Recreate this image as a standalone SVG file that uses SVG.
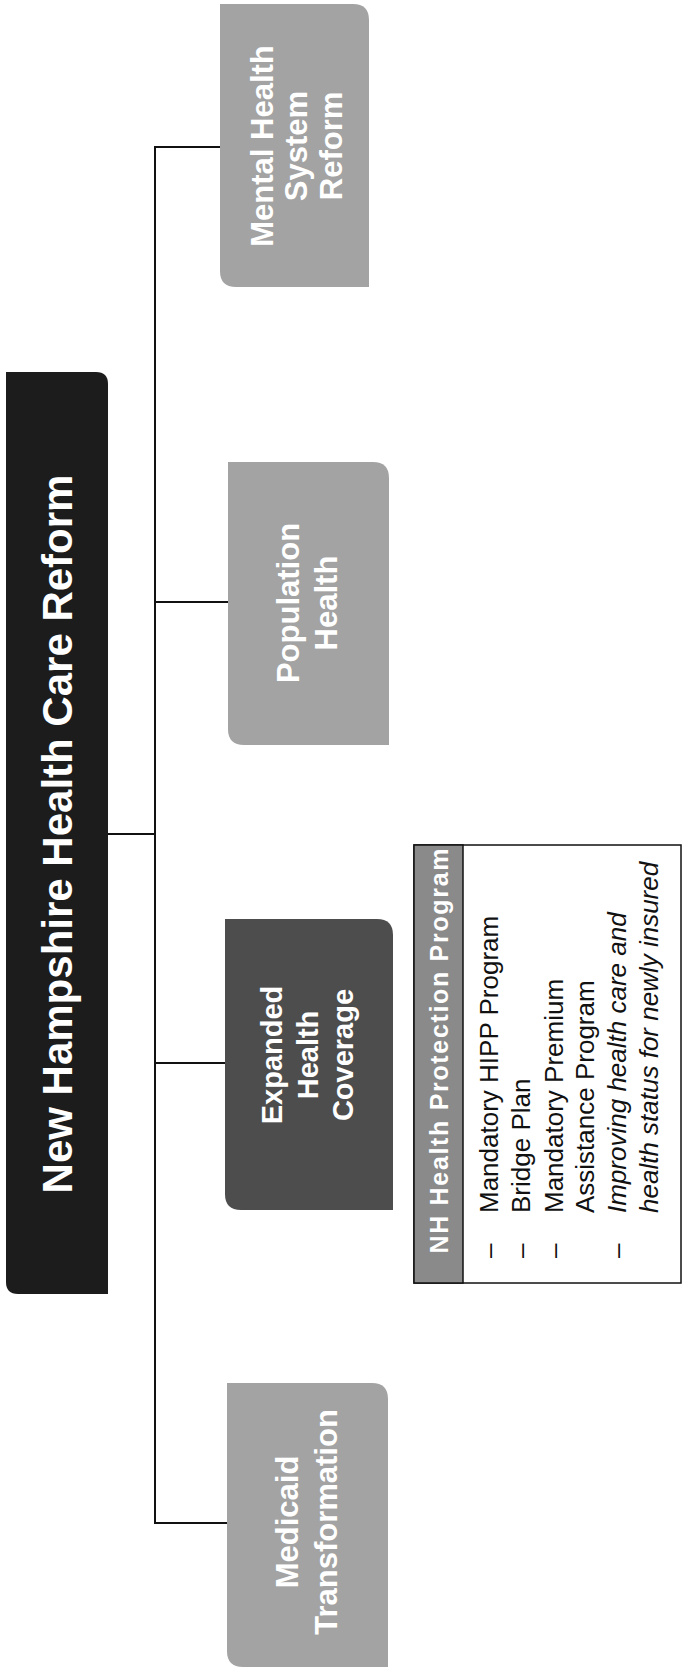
<svg xmlns="http://www.w3.org/2000/svg" width="686" height="1669" viewBox="0 0 686 1669">
<style>
.lbl{font-family:"Liberation Sans",Arial,sans-serif;font-weight:bold;fill:#ffffff;text-anchor:middle}
.item{font-family:"Liberation Sans",Arial,sans-serif;font-size:26px;fill:#111111}
.it{font-style:italic}
.conn{stroke:#111111;stroke-width:2;fill:none}
</style>
<rect width="686" height="1669" fill="#ffffff"/>
<g id="connectors">
<line class="conn" x1="155" y1="146" x2="155" y2="1524"/>
<line class="conn" x1="108" y1="834" x2="155" y2="834"/>
<line class="conn" x1="155" y1="147" x2="221" y2="147"/>
<line class="conn" x1="155" y1="602" x2="229" y2="602"/>
<line class="conn" x1="155" y1="1063" x2="226" y2="1063"/>
<line class="conn" x1="155" y1="1523" x2="228" y2="1523"/>
</g>
<g id="title">
<path d="M6,372 H96 Q108,372 108,384 V1294 H18 Q6,1294 6,1282 Z" fill="#1c1c1c"/>
<text class="lbl" font-size="42" transform="translate(72,834) rotate(-90)">New Hampshire Health Care Reform</text>
</g>
<g id="mental-health">
<path d="M220,4 H353 Q369,4 369,20 V287 H236 Q220,287 220,271 Z" fill="#a3a3a3"/>
<text class="lbl" font-size="31" transform="translate(273,146) rotate(-90)">Mental Health</text>
<text class="lbl" font-size="31" transform="translate(307,146) rotate(-90)">System</text>
<text class="lbl" font-size="31" transform="translate(342,146) rotate(-90)">Reform</text>
</g>
<g id="population-health">
<path d="M228,462 H373 Q389,462 389,478 V745 H244 Q228,745 228,729 Z" fill="#a3a3a3"/>
<text class="lbl" font-size="31" transform="translate(299,603) rotate(-90)">Population</text>
<text class="lbl" font-size="31" transform="translate(337,603) rotate(-90)">Health</text>
</g>
<g id="expanded-coverage">
<path d="M225,919 H377 Q393,919 393,935 V1210 H241 Q225,1210 225,1194 Z" fill="#4d4d4d"/>
<text class="lbl" font-size="29" transform="translate(282,1055) rotate(-90)">Expanded</text>
<text class="lbl" font-size="29" transform="translate(318,1055) rotate(-90)">Health</text>
<text class="lbl" font-size="29" transform="translate(353,1055) rotate(-90)">Coverage</text>
</g>
<g id="medicaid">
<path d="M227,1383 H372 Q388,1383 388,1399 V1667 H243 Q227,1667 227,1651 Z" fill="#a3a3a3"/>
<text class="lbl" font-size="31" transform="translate(298,1522) rotate(-90)">Medicaid</text>
<text class="lbl" font-size="31" transform="translate(337,1522) rotate(-90)">Transformation</text>
</g>
<g id="nh-protection-program">
<rect x="414" y="845" width="267" height="438" fill="#ffffff" stroke="#111111" stroke-width="1.5"/>
<rect x="414" y="845" width="49" height="438" fill="#8a8a8a" stroke="#111111" stroke-width="1.5"/>
<text class="lbl" font-size="25" textLength="405" lengthAdjust="spacing" transform="translate(448,1051) rotate(-90)">NH Health Protection Program</text>
<text class="item" transform="translate(498,1258) rotate(-90)">–</text>
<text class="item" transform="translate(498,1213) rotate(-90)">Mandatory HIPP Program</text>
<text class="item" transform="translate(530,1258) rotate(-90)">–</text>
<text class="item" transform="translate(530,1213) rotate(-90)">Bridge Plan</text>
<text class="item" transform="translate(563,1258) rotate(-90)">–</text>
<text class="item" transform="translate(563,1213) rotate(-90)">Mandatory Premium</text>
<text class="item" transform="translate(594,1213) rotate(-90)">Assistance Program</text>
<text class="item" transform="translate(626,1258) rotate(-90)">–</text>
<text class="item it" transform="translate(626,1213) rotate(-90)">Improving health care and</text>
<text class="item it" transform="translate(658,1213) rotate(-90)">health status for newly insured</text>
</g>
</svg>
